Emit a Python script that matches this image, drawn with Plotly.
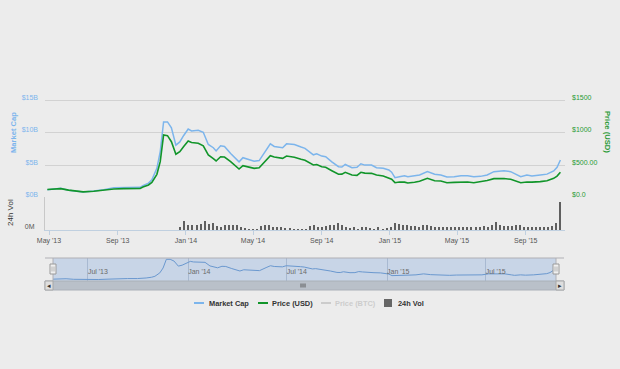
import plotly.graph_objects as go
import pandas as pd

# ---------------- data ----------------
dates = [
    "2013-04-28", "2013-05-22", "2013-06-05", "2013-06-20", "2013-07-01", "2013-07-20",
    "2013-08-07", "2013-08-25", "2013-09-12", "2013-09-30", "2013-10-11", "2013-10-16",
    "2013-10-26", "2013-11-01", "2013-11-10", "2013-11-16", "2013-11-22", "2013-11-29",
    "2013-12-06", "2013-12-14", "2013-12-21", "2013-12-28", "2014-01-05", "2014-01-11",
    "2014-01-23", "2014-02-01", "2014-02-10", "2014-02-19", "2014-02-24", "2014-03-04",
    "2014-03-11", "2014-03-22", "2014-04-06", "2014-04-13", "2014-04-24", "2014-05-03",
    "2014-05-12", "2014-05-24", "2014-06-01", "2014-06-08", "2014-06-23", "2014-06-30",
    "2014-07-14", "2014-07-26", "2014-08-02", "2014-08-17", "2014-08-23", "2014-09-01",
    "2014-09-08", "2014-09-19", "2014-10-01", "2014-10-07", "2014-10-13", "2014-10-25",
    "2014-11-03", "2014-11-10", "2014-11-17", "2014-11-29", "2014-12-08", "2014-12-20",
    "2014-12-30", "2015-01-04", "2015-01-10", "2015-01-18", "2015-01-27", "2015-02-02",
    "2015-02-14", "2015-02-23", "2015-03-09", "2015-03-22", "2015-04-02", "2015-04-13",
    "2015-04-26", "2015-05-08", "2015-05-20", "2015-05-31", "2015-06-12", "2015-06-24",
    "2015-07-06", "2015-07-24", "2015-08-05", "2015-08-17", "2015-08-23", "2015-09-03",
    "2015-09-12", "2015-09-27", "2015-10-09", "2015-10-21", "2015-10-27", "2015-11-02",
]
market_cap_b = [
    1.18, 1.40, 1.10, 0.98, 0.82, 0.98,
    1.18, 1.50, 1.50, 1.50, 1.55, 1.80,
    2.20, 2.70, 4.50, 7.10, 11.70, 11.70,
    10.80, 8.10, 8.60, 9.60, 10.60, 10.30,
    10.40, 10.10, 8.20, 7.70, 7.20, 8.00,
    7.90, 6.80, 5.50, 6.15, 5.90, 5.60,
    5.70, 7.30, 8.30, 7.90, 7.70, 8.30,
    8.20, 7.80, 7.60, 6.60, 6.75, 6.40,
    6.30, 5.50, 4.75, 4.70, 5.10, 4.60,
    4.65, 5.20, 5.00, 5.00, 4.60, 4.50,
    4.24, 3.90, 3.05, 3.20, 3.35, 3.20,
    3.35, 3.46, 3.98, 3.57, 3.46, 3.15,
    3.20, 3.35, 3.35, 3.20, 3.25, 3.46,
    3.98, 4.13, 3.98, 3.46, 3.20, 3.46,
    3.30, 3.46, 3.60, 4.10, 4.66, 5.80,
]
price_usd = [
    120, 135, 112, 100, 85, 95,
    112, 130, 135, 135, 137, 160,
    191, 230, 357, 553, 967, 957,
    863, 668, 708, 790, 874, 850,
    838, 800, 657, 600, 564, 630,
    625, 553, 439, 491, 470, 450,
    460, 579, 646, 625, 605, 641,
    621, 590, 575, 502, 510, 475,
    466, 413, 357, 360, 388, 346,
    341, 388, 375, 372, 346, 331,
    305, 280, 227, 238, 235, 222,
    235, 250, 295, 258, 253, 227,
    232, 238, 238, 227, 240, 262,
    290, 292, 280, 250, 227, 238,
    235, 243, 258, 295, 330, 390,
]
volume_m = [
    96, 324, 180, 168, 180, 216, 336, 216, 240, 144,
    96, 168, 168, 168, 168, 120, 72, 48, 36, 48,
    144, 168, 168, 120, 96, 120, 72, 72, 48, 48,
    48, 48, 144, 192, 120, 120, 144, 168, 168, 264,
    168, 96, 72, 96, 48, 120, 120, 72, 48, 120,
    48, 72, 120, 264, 216, 168, 168, 144, 144, 120,
    192, 192, 144, 120, 120, 120, 120, 120, 120, 120,
    96, 96, 96, 96, 120, 144, 96, 168, 288, 192,
    144, 144, 144, 168, 168, 120, 120, 96, 96, 120,
    120, 120, 144, 264, 1008,
]
vol_first, vol_last = "2013-12-22", "2015-11-02"

main_tick_dates = ["2013-05-01", "2013-09-01", "2014-01-01", "2014-05-01",
                   "2014-09-01", "2015-01-01", "2015-05-01", "2015-09-01"]
main_tick_text = ["May '13", "Sep '13", "Jan '14", "May '14",
                  "Sep '14", "Jan '15", "May '15", "Sep '15"]
nav_tick_dates = ["2013-07-01", "2014-01-01", "2014-07-01", "2015-01-01", "2015-07-01"]
nav_tick_text = ["Jul '13", "Jan '14", "Jul '14", "Jan '15", "Jul '15"]
cap_ticks = [0, 5, 10, 15, 20]
cap_tick_text = ["$0B", "$5B", "$10B", "$15B", ""]
price_ticks = [0, 500, 1000, 1500]
price_tick_text = ["$0.0", "$500.00", "$1000", "$1500"]

# ---------------- styling ----------------
W, H = 620, 369
BG = "#ececec"
BLUE = "#7cb5ec"
GREEN = "#11952a"
GREEN_TXT = "#2a9a35"
FONT = "Liberation Sans, Arial, sans-serif"


def fx(px):
    return px / W


def fy(py):
    return 1 - py / H


vol_dates = pd.date_range(vol_first, vol_last, periods=len(volume_m))

fig = go.Figure()
fig.add_trace(go.Scatter(x=dates, y=market_cap_b, mode="lines", name="Market Cap",
                         line=dict(color=BLUE, width=1.5), xaxis="x", yaxis="y"))
fig.add_trace(go.Scatter(x=dates, y=price_usd, mode="lines", name="Price (USD)",
                         line=dict(color=GREEN, width=1.6), xaxis="x", yaxis="y2"))
fig.add_trace(go.Bar(x=vol_dates, y=volume_m, name="24h Vol", marker_color="#5f5f5f",
                     marker_line_width=0, width=3.6 * 86400000, xaxis="x", yaxis="y3"))
fig.add_trace(go.Scatter(x=dates, y=market_cap_b, mode="lines", name="nav",
                         line=dict(color="#6a98cf", width=1), xaxis="x2", yaxis="y4"))

tickfont = dict(family=FONT, size=7, color="#555555")

fig.update_layout(
    width=W, height=H, autosize=False, margin=dict(l=0, r=0, t=0, b=0, pad=0),
    paper_bgcolor=BG, plot_bgcolor="rgba(0,0,0,0)",
    showlegend=False, bargap=0, hovermode=False,
    font=dict(family=FONT),
    xaxis=dict(domain=[fx(45), fx(565)], anchor="y3", automargin=False,
               range=["2013-04-23 20:00", "2015-11-10 05:00"],
               tickmode="array", tickvals=main_tick_dates, ticktext=main_tick_text,
               ticks="outside", ticklen=4, tickcolor="#c0d0e0",
               showline=True, linecolor="#c0d0e0", linewidth=1,
               showgrid=False, zeroline=False, tickfont=tickfont),
    yaxis=dict(domain=[fy(197.3), fy(68.5)], anchor="x", range=[0, 20], automargin=False,
               tickmode="array", tickvals=cap_ticks, ticktext=cap_tick_text,
               showgrid=True, gridcolor="#d2d2d2", gridwidth=1, zeroline=False,
               showline=False, ticks="", ticklabelshift=-3, ticklabelstandoff=6,
               tickfont=dict(family=FONT, size=7, color=BLUE)),
    yaxis2=dict(overlaying="y", side="right", anchor="x", range=[0, 2000], automargin=False,
                tickmode="array", tickvals=price_ticks, ticktext=price_tick_text,
                showgrid=False, zeroline=False, showline=False, ticks="",
                ticklabelshift=-3, ticklabelstandoff=6,
                tickfont=dict(family=FONT, size=7, color=GREEN_TXT)),
    yaxis3=dict(domain=[fy(230), fy(197.3)], anchor="x", range=[0, 1190], automargin=False,
                tickmode="array", tickvals=[0], ticktext=["0M"],
                showgrid=False, zeroline=False, showline=True, linecolor="#c8c8c8",
                ticks="", ticklabelshift=-3, ticklabelstandoff=8, tickfont=tickfont),
    xaxis2=dict(domain=[fx(53), fx(556)], anchor="y4", automargin=False,
                range=["2013-04-28", "2015-11-07"],
                tickmode="array", tickvals=nav_tick_dates, ticktext=nav_tick_text,
                ticklabelposition="inside right", ticks="",
                showgrid=True, gridcolor="rgba(110,135,170,0.35)", zeroline=False,
                showline=False, tickfont=dict(family=FONT, size=7, color="#6a6a6a")),
    yaxis4=dict(domain=[fy(281), fy(258)], anchor="x2", range=[0.2, 12.4], automargin=False,
                showgrid=False, zeroline=False, showticklabels=False, ticks=""),
)

shapes = []
# navigator selected mask
shapes.append(dict(type="rect", xref="paper", yref="paper", layer="below",
                   x0=fx(53), x1=fx(556), y0=fy(281), y1=fy(258),
                   fillcolor="#c8d5e7", line=dict(width=0)))
# navigator outline
shapes.append(dict(type="line", xref="paper", yref="paper", x0=fx(45), x1=fx(564),
                   y0=fy(258), y1=fy(258), line=dict(color="#b0b0b5", width=1)))
for xx in (53, 556):
    shapes.append(dict(type="line", xref="paper", yref="paper", x0=fx(xx), x1=fx(xx),
                       y0=fy(258), y1=fy(281), line=dict(color="#b0b0b5", width=1)))
# scrollbar
shapes.append(dict(type="rect", xref="paper", yref="paper", x0=fx(45), x1=fx(564),
                   y0=fy(290), y1=fy(281), fillcolor="#b9c0c9",
                   line=dict(color="#aab0b8", width=1)))
for x0, x1 in ((45, 53), (556, 564)):
    shapes.append(dict(type="rect", xref="paper", yref="paper", x0=fx(x0), x1=fx(x1),
                       y0=fy(290), y1=fy(281), fillcolor="#dedede",
                       line=dict(color="#a8a8a8", width=1)))
for xx in (301, 303, 305):
    shapes.append(dict(type="line", xref="paper", yref="paper", x0=fx(xx), x1=fx(xx),
                       y0=fy(283.5), y1=fy(287.5), line=dict(color="#444444", width=0.8)))
# navigator handles
for x0, x1 in ((50, 56), (553, 559)):
    shapes.append(dict(type="rect", xref="paper", yref="paper", x0=fx(x0), x1=fx(x1),
                       y0=fy(274), y1=fy(264), fillcolor="#f0f0f0",
                       line=dict(color="#9a9a9a", width=1)))
    for xx in (x0 + 2, x0 + 4):
        shapes.append(dict(type="line", xref="paper", yref="paper", x0=fx(xx), x1=fx(xx),
                           y0=fy(266.5), y1=fy(271.5), line=dict(color="#9a9a9a", width=0.7)))
# legend symbols
for x0, x1, col in ((194, 204, BLUE), (258, 268, GREEN), (321, 331, "#cccccc")):
    shapes.append(dict(type="line", xref="paper", yref="paper", x0=fx(x0), x1=fx(x1),
                       y0=fy(303), y1=fy(303), line=dict(color=col, width=2)))
shapes.append(dict(type="rect", xref="paper", yref="paper", x0=fx(384), x1=fx(392),
                   y0=fy(307), y1=fy(299), fillcolor="#666666", line=dict(width=0)))

annotations = [
    dict(text="<b>Market Cap</b>", x=fx(13), y=fy(133), textangle=-90,
         font=dict(family=FONT, size=7.6, color=BLUE)),
    dict(text="<b>Price (USD)</b>", x=fx(607), y=fy(132), textangle=90,
         font=dict(family=FONT, size=7.6, color=GREEN_TXT)),
    dict(text="24h Vol", x=fx(10), y=fy(213), textangle=-90,
         font=dict(family=FONT, size=8, color="#333333")),
    dict(text="◂", x=fx(49), y=fy(285.5), font=dict(family=FONT, size=7, color="#333333")),
    dict(text="▸", x=fx(560), y=fy(285.5), font=dict(family=FONT, size=7, color="#333333")),
    dict(text="<b>Market Cap</b>", x=fx(206.5), y=fy(303), xanchor="left",
         font=dict(family=FONT, size=7.4, color="#333333")),
    dict(text="<b>Price (USD)</b>", x=fx(270), y=fy(303), xanchor="left",
         font=dict(family=FONT, size=7.4, color="#333333")),
    dict(text="<b>Price (BTC)</b>", x=fx(333), y=fy(303), xanchor="left",
         font=dict(family=FONT, size=7.4, color="#cccccc")),
    dict(text="<b>24h Vol</b>", x=fx(395.5), y=fy(303), xanchor="left",
         font=dict(family=FONT, size=7.4, color="#333333")),
]
for a in annotations:
    a.setdefault("xanchor", "center")
    a.update(xref="paper", yref="paper", yanchor="middle", showarrow=False)

fig.update_layout(shapes=shapes, annotations=annotations)
fig.write_html(
    "out.html",
    config={"displayModeBar": False, "responsive": False, "staticPlot": True},
    default_width="620px", default_height="369px",
    post_script="document.body.style.margin='0';document.body.style.padding='0';"
                "document.body.style.overflow='hidden';"
                "document.documentElement.style.overflow='hidden';",
)
